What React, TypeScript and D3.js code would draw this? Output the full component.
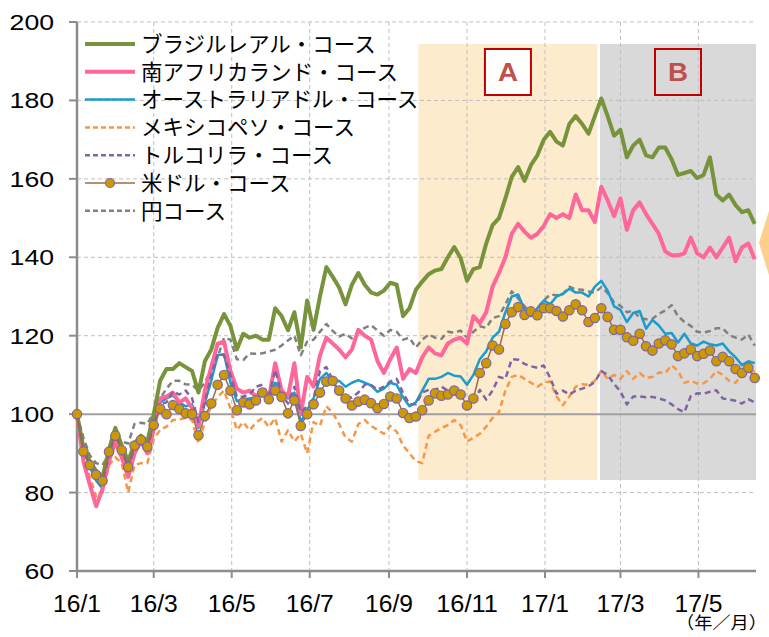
import { useEffect, useRef } from 'react';
import * as d3 from 'd3';

// 5-day sampled index values (2016/1/1 = 100)
const startDate = new Date(2016, 0, 1);
const stepDays = 5;

const brlValues = [
  100, 91.5, 88, 85.5, 84, 91, 96.5, 92, 88, 92.5, 94.5, 93, 100, 108.5, 111.5, 111.5, 113, 112, 111, 105.5,
  113.5, 116.5, 122, 125.5, 122.5, 116.5, 120.5, 119.5, 120, 119, 119, 127, 125, 121.4, 126, 117, 129, 121.5, 130, 137.5,
  135, 132.3, 128, 133, 136, 133, 131, 130.5, 131.5, 133.5, 133, 125, 127, 131.7, 133.8, 135.7, 136.6, 137, 140, 142.6,
  139.8, 134, 137, 137.5, 143.5, 148.2, 150, 155, 160.5, 163, 159.5, 163.5, 166, 170, 172, 169.5, 168.5, 174, 176, 174,
  171.5, 176, 180.5, 176, 171, 172.5, 165.5, 168.5, 170, 166, 165.5, 168, 168, 165, 161, 161.5, 162, 160.2, 161, 165.5,
  156, 154.5, 156, 153.3, 151.5, 152, 148.5,
];
const zarValues = [
  100, 88, 82, 76.5, 81, 88, 93, 89, 84, 90, 93, 90, 96, 104, 104.5, 105.5, 103, 104, 101.5, 97,
  106, 112, 118, 118.5, 111, 106.5, 105.5, 106, 104.5, 106, 104, 113, 106, 104.5, 113, 100, 109.5, 107, 115, 119.5,
  118, 116.5, 114.5, 116.5, 121.5, 120, 119, 113.5, 110.5, 114, 117, 109, 111.5, 110.5, 114.5, 117, 115.5, 115, 118, 119,
  119.5, 118, 125, 123.2, 126, 132.5, 136, 140, 146, 148.5, 146.5, 145, 146, 148, 151, 150, 151, 150, 156, 152,
  152, 149, 158, 154.5, 150.5, 155, 147, 152, 154, 151, 148.5, 146, 141.5, 140.5, 140.5, 141, 145, 141, 140, 142.5,
  140, 142.5, 145, 139, 142.5, 143.5, 139.5,
];
const audValues = [
  100, 91, 86.5, 83, 81, 88, 94.5, 91, 85.5, 91, 93.5, 91, 97.5, 103, 104, 104.8, 103, 102, 102.5, 96.5,
  103, 108.5, 115, 115.3, 108, 103.3, 103.8, 104, 104.2, 105.5, 104.5, 108, 106.5, 104, 105.5, 98, 101, 104, 109, 110.5,
  108.3, 108.5, 107, 108, 108.7, 108, 107.3, 105.7, 106.5, 108, 107.5, 104.3, 102, 103, 106, 109, 109, 109.5, 110.5, 109.8,
  109.6, 107.5, 110, 114, 116, 119.5, 121, 126, 130, 130.5, 126.6, 125, 127, 129, 128, 130, 130.7, 132, 131, 131,
  130, 132.5, 134, 131.5, 127.5, 126.6, 123.5, 125.8, 126.3, 121.8, 124, 122.6, 120.5, 120.7, 118.3, 120.5, 118, 117.5, 118.5, 117.8,
  117.5, 118, 116, 114.5, 112.5, 113.5, 113,
];
const mxnValues = [
  100, 90, 84, 79, 80, 87, 89, 87.5, 80, 87, 87.5, 87.5, 93.5, 96, 96.8, 98.5, 98.7, 99, 98.5, 92.5,
  98, 102, 104.4, 106, 101.5, 96, 98, 95.9, 97.8, 99, 96.7, 99, 93, 95.9, 93, 95, 90, 98, 97, 102,
  100.3, 97.5, 94, 93, 97.5, 98.5, 97, 96, 95, 97, 95.5, 92, 90, 88, 87.5, 94.5, 95.5, 96.5, 97.2, 98.5,
  97.2, 93, 94, 95, 96.8, 99, 100.5, 106, 109.5, 110, 109, 108, 107, 108, 108.3, 104.5, 102.3, 104.5, 107, 107.6,
  107.5, 108.5, 111, 109, 110, 109, 111, 109, 110.5, 109.2, 109.5, 110.6, 110.5, 112.5, 111, 108, 108.5, 107.8, 107.9, 109,
  111, 110, 108.5, 108, 110, 110.5, 111,
];
const tryValues = [
  100, 91, 87, 84, 82.5, 89.5, 95, 91, 86.5, 91.5, 93.5, 91.5, 97, 102.5, 103, 105.8, 105, 106, 104, 98,
  103, 110, 115.3, 115, 110, 104.4, 104.5, 105, 107, 107.5, 104.4, 111.3, 105, 102.7, 107, 100.5, 102, 104, 111, 112,
  108.7, 105.3, 104.5, 104.2, 105.5, 107.5, 107.4, 106.2, 107, 108.3, 109, 105.4, 102.5, 102.5, 105.5, 106.2, 106.2, 107, 106, 106,
  105, 102.5, 103, 106.2, 103.7, 106, 109.5, 109, 114, 113.9, 112.8, 112.2, 111.8, 112.4, 109.3, 105.2, 106, 105, 106, 106.5,
  107.1, 108.2, 111, 110, 107.7, 105.8, 102.5, 104.5, 104.5, 104.3, 104.4, 104, 103.5, 102.5, 101.3, 100.5, 104.6, 105.3, 105.2, 105.7,
  106.1, 104, 103.7, 103.4, 102.7, 103.8, 103,
];
const usdValues = [
  100, 90.5, 87, 84.5, 83, 90.4, 94.5, 90.8, 86.5, 92, 93.4, 91.7, 97.2, 101.4, 100, 102.3, 101.3, 100.2, 100, 94.6,
  99.5, 102.7, 107.5, 110, 106, 101, 103, 102.5, 103.5, 105.5, 103.8, 106, 104.4, 100.2, 103.5, 97, 100, 102.5, 105.5, 108.3,
  108.5, 106, 104, 102.2, 103.2, 103.7, 102.8, 101.5, 102.6, 104.5, 104, 100.3, 99, 99.4, 101, 103.5, 105.3, 104.7, 105, 106,
  105, 102.2, 104, 110.5, 113, 117.5, 116.5, 123, 126, 127.3, 125.3, 126.2, 125.2, 127, 127, 126.3, 124.9, 126.5, 128, 126.5,
  123.5, 124.5, 127, 124.8, 121.5, 121.5, 119.6, 118.7, 120.5, 117.3, 116.2, 118, 118.8, 117.8, 114.8, 115.5, 116.5, 114.8, 115.4, 116.2,
  113.5, 114.6, 113.5, 111.5, 110.5, 111.8, 109.2,
];
const jpyValues = [
  100, 94, 89.5, 87.5, 87, 90, 94, 93, 92.5, 97.5, 97.8, 97.5, 100.5, 104, 106.5, 108.5, 108.5, 107.6, 107.5, 106,
  108, 111.5, 114.5, 119.5, 119, 114, 113.8, 115.5, 115.4, 115.5, 116, 116.4, 117.5, 118.8, 120, 115, 118.5, 119, 121, 123,
  121.2, 119.8, 120.5, 119.3, 121, 122, 122.7, 121.3, 120, 121.5, 121, 119, 119.5, 117, 119, 120.3, 119.5, 119.2, 121, 120.8,
  121.3, 119.5, 121, 122.4, 122, 124.5, 125, 128, 131.3, 129.5, 127.5, 126, 127, 129, 130.5, 130.3, 130.6, 132.5, 131.8, 131.7,
  131.3, 131, 132.4, 130.9, 128.5, 127.6, 126, 126.4, 124.6, 124.2, 124.3, 125.6, 126.4, 127.8, 125, 123.5, 122.5, 121, 120.8, 121.2,
  121.9, 121.9, 120.2, 119.5, 119, 120.3, 117.5,
];

const legendLabels = [
  'ブラジルレアル・コース',
  '南アフリカランド・コース',
  'オーストラリアドル・コース',
  'メキシコペソ・コース',
  'トルコリラ・コース',
  '米ドル・コース',
  '円コース',
];

const yTicks = [60, 80, 100, 120, 140, 160, 180, 200];
const xTicks = [
  new Date(2016, 0, 1), new Date(2016, 2, 1), new Date(2016, 4, 1), new Date(2016, 6, 1),
  new Date(2016, 8, 1), new Date(2016, 10, 1), new Date(2017, 0, 1), new Date(2017, 2, 1), new Date(2017, 4, 1),
];

// shaded periods A and B
const periodLabels = ['A', 'B'];
const periodStarts = [new Date(2016, 8, 24), new Date(2017, 1, 13)];
const periodEnds = [new Date(2017, 1, 11), new Date(2017, 5, 15)];
const periodTop = 194.4;
const periodBottom = 83.2;

export default function App() {
  const ref = useRef<SVGSVGElement>(null);

  useEffect(() => {
    if (!ref.current) return;
    const svg = d3.select(ref.current);
    svg.selectAll('*').remove();

    const left = 77, right = 756, top = 22, bottom = 571;
    const x = d3.scaleTime().domain([startDate, new Date(2017, 5, 15)]).range([left, right]);
    const y = d3.scaleLinear().domain([60, 200]).range([bottom, top]);
    const dates = usdValues.map((_, i) => d3.timeDay.offset(startDate, i * stepDays));

    const font = '"Liberation Sans", Arial, sans-serif';
    const jpFont = '"Noto Sans CJK JP", sans-serif';

    // shaded periods
    const periodFills = ['#fdebcd', '#d9d9d9'];
    periodStarts.forEach((s, i) => {
      svg.append('rect')
        .attr('x', x(s))
        .attr('y', y(periodTop))
        .attr('width', x(periodEnds[i]) - x(s))
        .attr('height', y(periodBottom) - y(periodTop))
        .attr('fill', periodFills[i]);
    });

    // grid
    const grid = svg.append('g').attr('stroke', '#bfbfbf').attr('stroke-dasharray', '4,3').attr('stroke-width', 1);
    yTicks.filter(t => t !== 60 && t !== 100).forEach(t => {
      grid.append('line').attr('x1', left).attr('x2', right).attr('y1', y(t)).attr('y2', y(t));
    });
    xTicks.slice(1).forEach(t => {
      grid.append('line').attr('x1', x(t)).attr('x2', x(t)).attr('y1', top).attr('y2', bottom);
    });

    // 100 baseline
    svg.append('line').attr('x1', left).attr('x2', right).attr('y1', y(100)).attr('y2', y(100))
      .attr('stroke', '#a0a0a0').attr('stroke-width', 2);

    // period boxes
    periodStarts.forEach((s, i) => {
      const cx = (x(s) + x(periodEnds[i])) / 2;
      const g = svg.append('g');
      g.append('rect')
        .attr('x', cx - 23).attr('y', 49).attr('width', 46).attr('height', 46)
        .attr('fill', i === 0 ? '#fff' : 'none')
        .attr('stroke', '#c00000').attr('stroke-width', 2);
      g.append('text')
        .attr('x', cx - 10).attr('y', 81)
        .attr('textLength', 20).attr('lengthAdjust', 'spacingAndGlyphs')
        .attr('font-family', font).attr('font-size', 25).attr('font-weight', 'bold')
        .attr('fill', '#c0504d')
        .text(periodLabels[i]);
    });

    // axes
    const axisColor = '#8c8c8c';
    svg.append('line').attr('x1', left).attr('x2', left).attr('y1', top).attr('y2', bottom)
      .attr('stroke', axisColor).attr('stroke-width', 2.5);
    svg.append('line').attr('x1', left - 1).attr('x2', right).attr('y1', bottom).attr('y2', bottom)
      .attr('stroke', axisColor).attr('stroke-width', 2.5);
    yTicks.forEach(t => {
      const label = String(t);
      const w = label.length * 14.8;
      svg.append('line').attr('x1', left - 8).attr('x2', left).attr('y1', y(t)).attr('y2', y(t))
        .attr('stroke', axisColor).attr('stroke-width', 2);
      svg.append('text')
        .attr('x', 54 - w).attr('y', y(t) + 8)
        .attr('textLength', w).attr('lengthAdjust', 'spacingAndGlyphs')
        .attr('font-family', font).attr('font-size', 22.5).attr('fill', '#000')
        .text(label);
    });
    const fmt = d3.timeFormat('%y/%-m');
    xTicks.forEach(t => {
      const label = fmt(t);
      const digits = label.replace('/', '').length;
      const w = (digits + 0.5) * 13.7;
      svg.append('line').attr('x1', x(t)).attr('x2', x(t)).attr('y1', bottom).attr('y2', bottom + 7)
        .attr('stroke', axisColor).attr('stroke-width', 2);
      svg.append('text')
        .attr('x', x(t) - w / 2).attr('y', 612)
        .attr('textLength', w).attr('lengthAdjust', 'spacingAndGlyphs')
        .attr('font-family', font).attr('font-size', 23).attr('fill', '#000')
        .text(label);
    });
    svg.append('text').attr('x', 676).attr('y', 629)
      .attr('textLength', 91).attr('lengthAdjust', 'spacingAndGlyphs')
      .attr('font-family', jpFont).attr('font-size', 17).attr('fill', '#000')
      .text('（年／月）');

    // series
    const line = d3.line<number>().x((_, i) => x(dates[i])).y(d => y(d));
    const series = [
      { values: jpyValues, color: '#808080', width: 2.5, dash: '6,4' },
      { values: mxnValues, color: '#f79646', width: 2.5, dash: '6,4' },
      { values: audValues, color: '#1a9ccc', width: 2.5, dash: null },
      { values: zarValues, color: '#ff6699', width: 4, dash: null },
      { values: brlValues, color: '#77933c', width: 4, dash: null },
      { values: tryValues, color: '#8064a2', width: 2.5, dash: '6,4' },
      { values: usdValues, color: '#9c6b45', width: 1.5, dash: null },
    ];
    series.forEach(s => {
      svg.append('path').datum(s.values)
        .attr('d', line)
        .attr('fill', 'none')
        .attr('stroke', s.color)
        .attr('stroke-width', s.width)
        .attr('stroke-linejoin', 'round')
        .attr('stroke-dasharray', s.dash);
    });
    svg.append('g').selectAll('circle').data(usdValues).join('circle')
      .attr('cx', (_, i) => x(dates[i]))
      .attr('cy', d => y(d))
      .attr('r', 4.7)
      .attr('fill', '#cc9900')
      .attr('stroke', '#7f64a2')
      .attr('stroke-width', 1.2);

    // legend
    const legendStyles = [
      { color: '#77933c', width: 4, dash: null },
      { color: '#ff6699', width: 4, dash: null },
      { color: '#1a9ccc', width: 2.5, dash: null },
      { color: '#f79646', width: 2.5, dash: '5,3' },
      { color: '#8064a2', width: 2.5, dash: '5,3' },
      { color: '#9c6b45', width: 1.5, dash: null },
      { color: '#808080', width: 2.5, dash: '5,3' },
    ];
    legendLabels.forEach((label, i) => {
      const ly = 44 + i * 27.8;
      svg.append('line').attr('x1', 85).attr('x2', 135).attr('y1', ly).attr('y2', ly)
        .attr('stroke', legendStyles[i].color)
        .attr('stroke-width', legendStyles[i].width)
        .attr('stroke-dasharray', legendStyles[i].dash);
      if (i === 5) {
        svg.append('circle').attr('cx', 110).attr('cy', ly).attr('r', 4.5)
          .attr('fill', '#cc9900').attr('stroke', '#7f64a2').attr('stroke-width', 1.2);
      }
      svg.append('text').attr('x', 141).attr('y', ly).attr('dy', '0.36em')
        .attr('font-family', jpFont).attr('font-size', 21.5).attr('fill', '#000')
        .text(label);
    });

    // arrow marker at right edge (partly cut off)
    svg.append('polygon')
      .attr('points', '759,243 776,188 776,298')
      .attr('fill', '#fcd08a');
  }, []);

  return (
    <svg
      ref={ref}
      width={769}
      height={637}
      style={{ position: 'absolute', left: 0, top: 0, background: '#fff' }}
    />
  );
}
